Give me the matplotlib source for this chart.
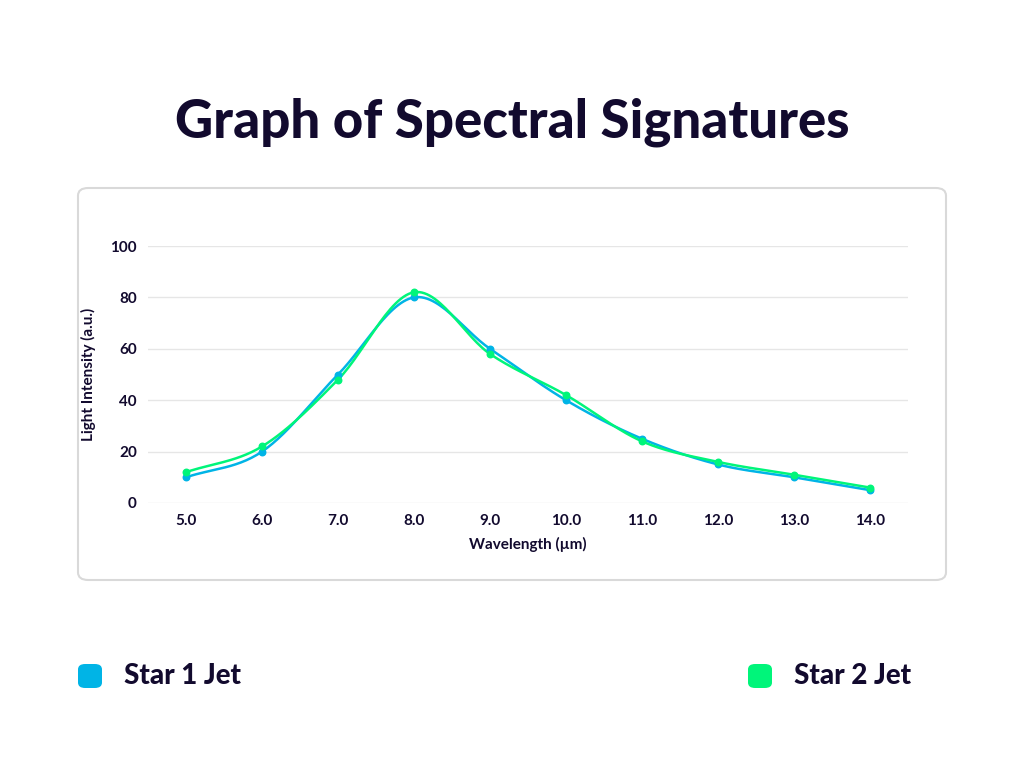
import numpy as np
import matplotlib
matplotlib.use("Agg")
import matplotlib.pyplot as plt
from matplotlib.patches import FancyBboxPatch

wavelength = [5.0, 6.0, 7.0, 8.0, 9.0, 10.0, 11.0, 12.0, 13.0, 14.0]
star1 = [10, 20, 50, 80, 60, 40, 25, 15, 10, 5]
star2 = [12, 22, 48, 82, 58, 42, 24, 16, 11, 6]
series_names = ["Star 1 Jet", "Star 2 Jet"]
colors = ["#00b4e6", "#00f57a"]
dark = "#120a2e"
FONT = "Lato"

def catmull(x, y, n=30):
    x = np.asarray(x, float); y = np.asarray(y, float)
    xp = np.concatenate([[2*x[0]-x[1]], x, [2*x[-1]-x[-2]]])
    yp = np.concatenate([[2*y[0]-y[1]], y, [2*y[-1]-y[-2]]])
    ox, oy = [], []
    for i in range(1, len(xp)-2):
        t = np.linspace(0, 1, n)
        for arr, out in ((xp, ox), (yp, oy)):
            p0, p1, p2, p3 = arr[i-1:i+3]
            out.extend(0.5*((2*p1) + (-p0+p2)*t + (2*p0-5*p1+4*p2-p3)*t**2 + (-p0+3*p1-3*p2+p3)*t**3))
    return np.array(ox), np.array(oy)

fig = plt.figure(figsize=(10.24, 7.68), dpi=100)
fig.patch.set_facecolor("white")

panel = FancyBboxPatch((78/1024, (768-580)/768), 868/1024, 392/768,
                       boxstyle="round,pad=0,rounding_size=0.01", transform=fig.transFigure,
                       facecolor="white", edgecolor="#d9d9d9", linewidth=1.5, zorder=0)
fig.patches.append(panel)

fig.text(0.5, (768-122)/768, "Graph of Spectral Signatures", ha="center", va="center",
         fontsize=38, fontweight="black", color=dark, family=FONT)

ax = fig.add_axes([148/1024, (768-503)/768, 760/1024, 257/768])
ax.set_zorder(5)
ax.patch.set_alpha(0)
ax.set_xlim(4.5, 14.5)
ax.set_ylim(0, 100)
for s, c in zip([star1, star2], colors):
    sx, sy = catmull(wavelength, s)
    ax.plot(sx, sy, color=c, lw=1.8, zorder=3)
    ax.scatter(wavelength, s, color=c, s=22, zorder=4)
ax.set_xticks(wavelength)
ax.set_xticklabels([f"{v:.1f}" for v in wavelength])
ax.set_yticks([0, 20, 40, 60, 80, 100])
ax.grid(axis="y", color="#e6e6e6", lw=1)
ax.set_axisbelow(True)
for sp in ax.spines.values():
    sp.set_visible(False)
ax.tick_params(length=0, labelsize=11, colors=dark, pad=8)
for lb in ax.get_xticklabels() + ax.get_yticklabels():
    lb.set_fontweight("bold"); lb.set_family(FONT)
ax.set_xlabel("Wavelength (µm)", fontsize=11, fontweight="bold", color=dark, family=FONT, labelpad=6)
ax.set_ylabel("Light Intensity (a.u.)", fontsize=11, fontweight="bold", color=dark, family=FONT, labelpad=10)

for (mx, tx), name, c in zip([(90, 124), (760, 794)], series_names, colors):
    sq = FancyBboxPatch(((mx-12)/1024, (768-688)/768), 24/1024, 24/768,
                        boxstyle="round,pad=0,rounding_size=0.007", transform=fig.transFigure,
                        facecolor=c, edgecolor="none")
    fig.patches.append(sq)
    fig.text(tx/1024, (768-676)/768, name, ha="left", va="center", fontsize=20,
             fontweight="black", color=dark, family=FONT)

fig.savefig("out.png", dpi=100)
